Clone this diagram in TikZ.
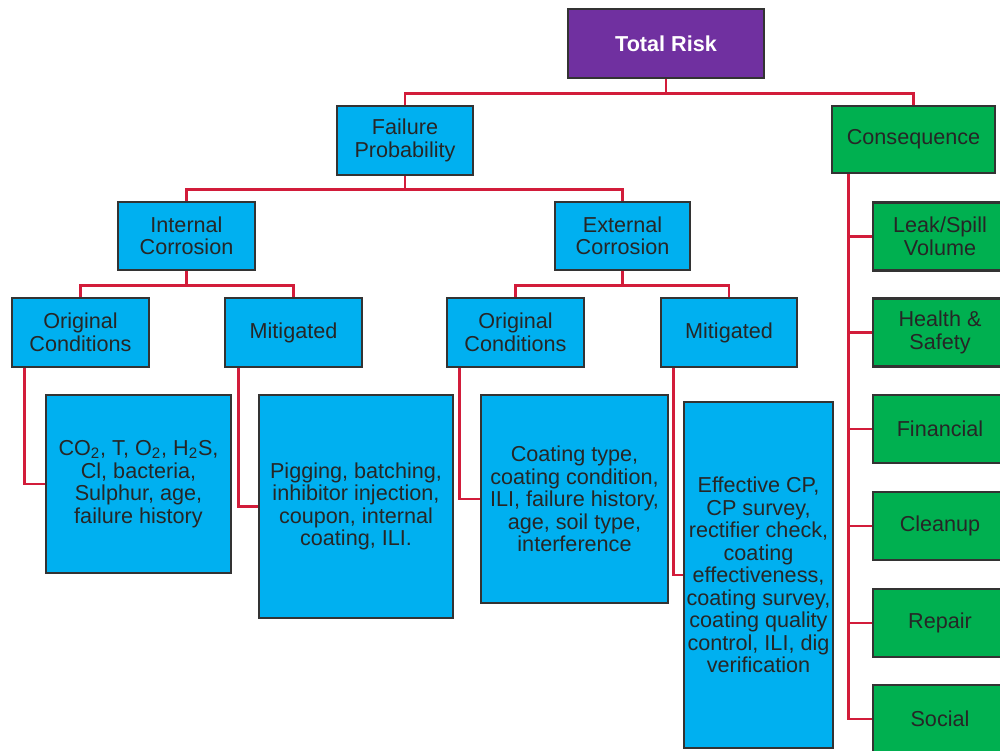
\documentclass[tikz,border=0pt]{standalone}
\usepackage{fontspec}
\setmainfont{Liberation Sans}
\definecolor{riskPurple}{RGB}{112, 48, 160}
\definecolor{riskBlue}{RGB}{0, 176, 240}
\definecolor{riskGreen}{RGB}{0, 176, 80}
\definecolor{riskRed}{RGB}{210, 28, 58}
\definecolor{riskText}{RGB}{38, 38, 38}
\usetikzlibrary{positioning, calc}

\begin{document}
\begin{tikzpicture}[
    box/.style={rectangle, draw=black!80, line width=1.6pt, align=center,
                inner sep=0pt, text=riskText,
                font=\fontsize{12.3}{12.8}\selectfont},
    bluebox/.style={box, fill=riskBlue, minimum width=2.74cm, minimum height=1.38cm},
    greenbox/.style={box, fill=riskGreen, minimum width=2.68cm, minimum height=1.36cm},
    link/.style={draw=riskRed, line width=1.4pt}
  ]
    \clip (0,0) rectangle (20,-15.02);

    % Top
    \node[box, fill=riskPurple, text=white, minimum width=3.92cm, minimum height=1.38cm,
          font=\fontsize{12.3}{12.8}\selectfont\bfseries] (TR) at (13.32,-0.87) {Total Risk};

    % Second level
    \node[bluebox, minimum width=2.72cm] (FP) at (8.10,-2.81) {Failure\\Probability};
    \node[greenbox, minimum width=3.26cm, minimum height=1.34cm] (CONS) at (18.27,-2.79) {Consequence};

    % Corrosion types
    \node[bluebox, minimum height=1.36cm] (IC) at (3.73,-4.72) {Internal\\Corrosion};
    \node[bluebox, minimum width=2.70cm, minimum height=1.36cm] (EC) at (12.45,-4.72) {External\\Corrosion};

    % Conditions
    \node[bluebox] (ICO) at (1.61,-6.65) {Original\\Conditions};
    \node[bluebox] (ICM) at (5.87,-6.65) {Mitigated};
    \node[bluebox] (ECO) at (10.31,-6.65) {Original\\Conditions};
    \node[bluebox, minimum width=2.72cm] (ECM) at (14.58,-6.65) {Mitigated};

    % Detail boxes
    \node[bluebox, minimum width=3.70cm, minimum height=3.56cm] (ICOD) at (2.77,-9.68)
      {CO\textsubscript{2}, T, O\textsubscript{2}, H\textsubscript{2}S,\\Cl, bacteria,\\Sulphur, age,\\failure history};
    \node[bluebox, minimum width=3.88cm, minimum height=4.46cm] (ICMD) at (7.12,-10.13)
      {Pigging, batching,\\inhibitor injection,\\coupon, internal\\coating, ILI.};
    \node[bluebox, minimum width=3.74cm, minimum height=4.16cm] (ECOD) at (11.49,-9.98)
      {Coating type,\\coating condition,\\ILI, failure history,\\age, soil type,\\interference};
    \node[bluebox, minimum width=2.98cm, minimum height=6.92cm] (ECMD) at (15.17,-11.50)
      {Effective CP,\\CP survey,\\rectifier check,\\coating\\effectiveness,\\coating survey,\\coating quality\\control, ILI, dig\\verification};

    % Consequence items
    \node[greenbox] (C1) at (18.80,-4.73) {Leak/Spill\\Volume};
    \node[greenbox] (C2) at (18.80,-6.65) {Health \&\\Safety};
    \node[greenbox] (C3) at (18.80,-8.58) {Financial};
    \node[greenbox] (C4) at (18.80,-10.52) {Cleanup};
    \node[greenbox] (C5) at (18.80,-12.46) {Repair};
    \node[greenbox] (C6) at (18.80,-14.38) {Social};

    % Tree connectors
    \draw[link] (TR.south) -- ++(0,-0.28) -| (FP.north);
    \draw[link] (TR.south) -- ++(0,-0.28) -| (CONS.north);
    \draw[link] (FP.south) -- ++(0,-0.26) -| (IC.north);
    \draw[link] (FP.south) -- ++(0,-0.26) -| (EC.north);
    \draw[link] (IC.south) -- ++(0,-0.28) -| (ICO.north);
    \draw[link] (IC.south) -- ++(0,-0.28) -| (ICM.north);
    \draw[link] (EC.south) -- ++(0,-0.28) -| (ECO.north);
    \draw[link] (EC.south) -- ++(0,-0.28) -| (ECM.north);

    % Side connectors
    \draw[link] ([xshift=0.28cm]ICO.south west) |- (ICOD.west);
    \draw[link] ([xshift=0.30cm]ICM.south west) |- (ICMD.west);
    \draw[link] ([xshift=0.28cm]ECO.south west) |- (ECOD.west);
    \draw[link] ([xshift=0.28cm]ECM.south west) |- (ECMD.west);
    \foreach \c in {C1,C2,C3,C4,C5,C6}
      \draw[link] ([xshift=0.36cm]CONS.south west) |- (\c.west);
  \end{tikzpicture}
\end{document}
